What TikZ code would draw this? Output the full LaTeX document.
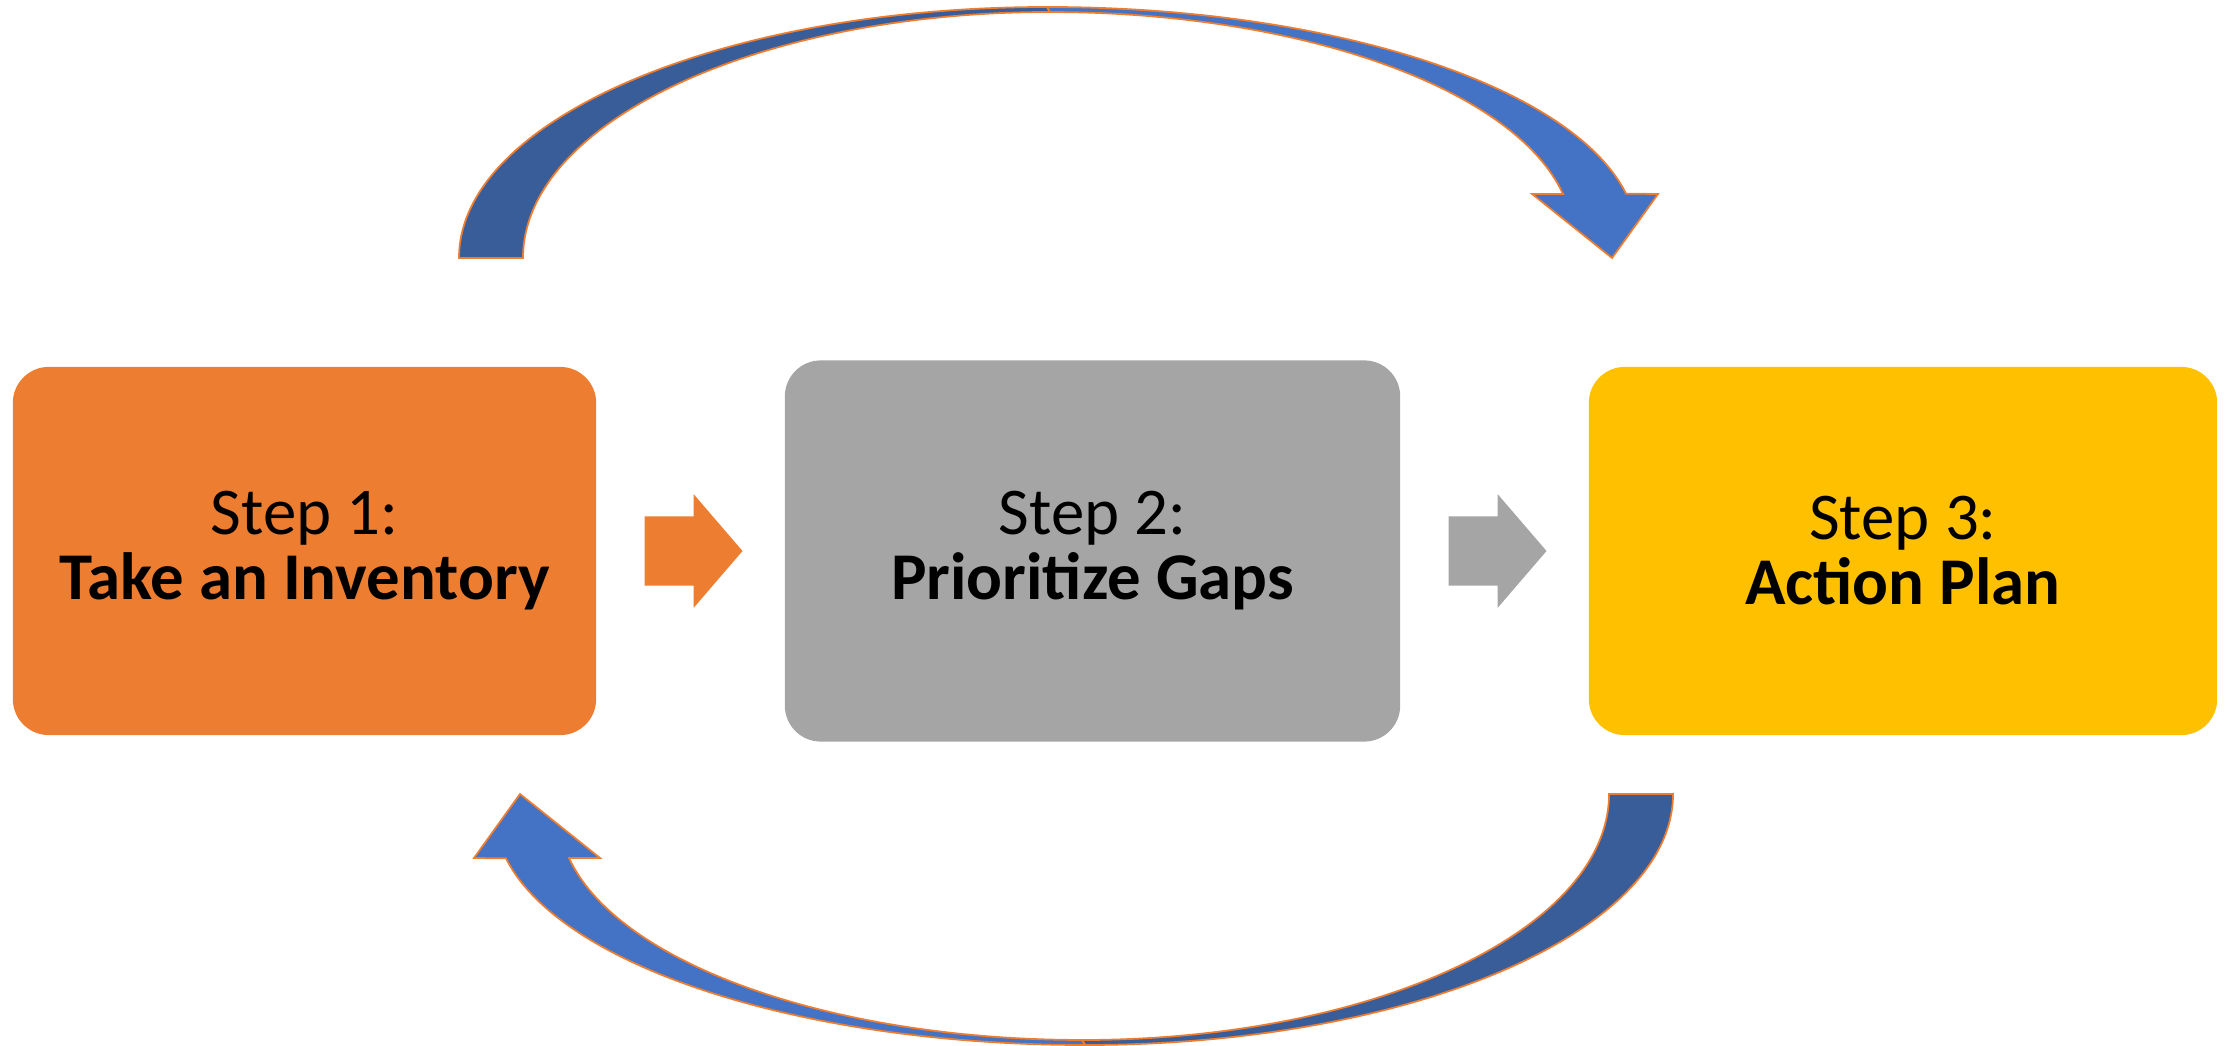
\documentclass[tikz,border=0pt]{standalone}
\usepackage{fontspec}
\setmainfont{Carlito}
\usetikzlibrary{calc}

\definecolor{stepone}{HTML}{ED7D31}
\definecolor{steptwo}{HTML}{A5A5A5}
\definecolor{stepthree}{HTML}{FFC000}
\definecolor{loopdark}{HTML}{385D99}
\definecolor{looplight}{HTML}{4472C4}

\tikzset{
    stepbox/.style={rectangle, rounded corners=0.36cm, inner sep=0pt, outer sep=0pt,
        align=center, font=\fontsize{19}{18.5}\selectfont},
    looppart/.style={draw=stepone, line width=0.5pt, line join=miter}
}

\begin{document}
\begin{tikzpicture}[x=0.01cm, y=0.01cm]
        \useasboundingbox (0,0) rectangle (2234,1045);

        % The three steps
        \node[stepbox, fill=stepone, minimum width=5.83cm, minimum height=3.68cm] (inventory) at (304.5,494) {Step 1:\\\textbf{Take an Inventory}};
        \node[stepbox, fill=steptwo, minimum width=6.15cm, minimum height=3.81cm] (gaps) at (1092.5,494) {Step 2:\\\textbf{Prioritize Gaps}};
        \node[stepbox, fill=stepthree, minimum width=6.28cm, minimum height=3.68cm] (plan) at (1903,494) {Step 3:\\\textbf{Action Plan}};

        % Block arrows between the steps
        \foreach \src/\dest/\col in {inventory/gaps/stepone, gaps/plan/steptwo} {
            \coordinate (mid) at ($(\src.east)!0.5!(\dest.west)$);
            \fill[\col] ($(mid)+(-46,34.5)$) -- ++(49,0) -- ++(0,22.5) -- ($(mid)+(52,0)$)
                -- ($(mid)+(3,-57)$) -- ++(0,22.5) -- ($(mid)+(-46,-34.5)$) -- cycle;
        }

        % Loop arrows, the lower one turned half round
        \foreach \turn in {0,180} {
            \begin{scope}[rotate around={\turn:(1066,519)}]
                \filldraw[looppart, fill=loopdark] (459,787)
                    arc[start angle=180, end angle=90, x radius=588, y radius=251] -- (1050,1033)
                    arc[start angle=90, end angle=180, x radius=527, y radius=246] -- cycle;
                \filldraw[looppart, fill=looplight] (1047,1038)
                    arc[start angle=90, end angle=11.07, x radius=590, y radius=231]
                    -- (1658,851) -- (1612,787) -- (1532,851) -- (1563,851)
                    arc[start angle=11.24, end angle=90, x radius=523, y radius=226] -- cycle;
            \end{scope}
        }
    \end{tikzpicture}
\end{document}
